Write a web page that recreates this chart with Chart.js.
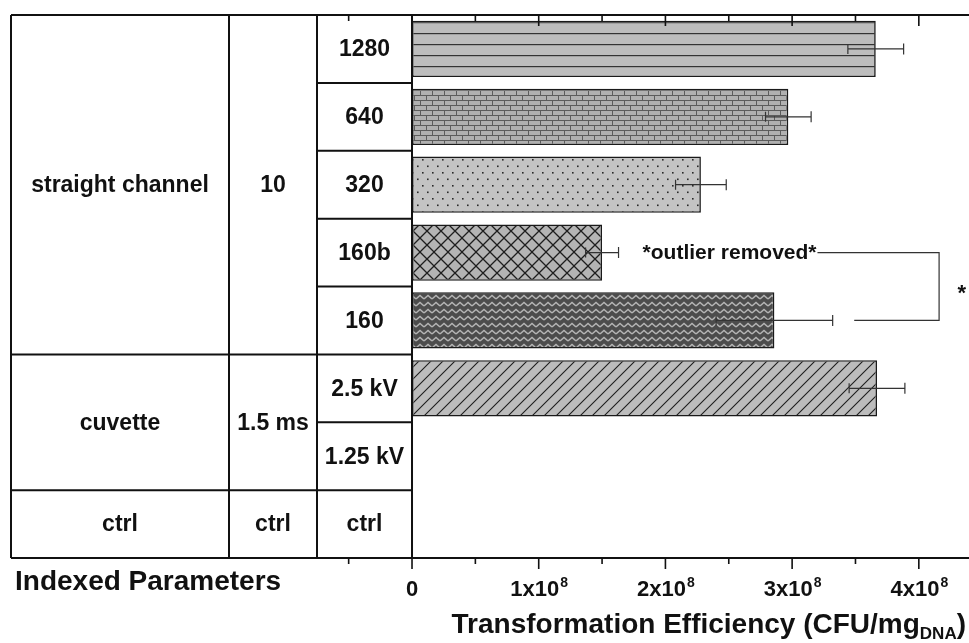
<!DOCTYPE html>
<html><head><meta charset="utf-8">
<script src="https://cdn.jsdelivr.net/npm/chart.js@4.4.1/dist/chart.umd.min.js"></script>
<style>html,body{margin:0;padding:0;background:#fff;overflow:hidden}canvas{display:block}</style>
</head><body>
<canvas id="c" width="969" height="643"></canvas>
<script>
// ---- data ----
const categories = ['1280', '640', '320', '160b', '160', '2.5 kV', '1.25 kV', 'ctrl'];
const efficiency = [3.66e8, 2.97e8, 2.28e8, 1.50e8, 2.86e8, 3.67e8, null, null];
const errors = [0.22e8, 0.18e8, 0.20e8, 0.13e8, 0.46e8, 0.22e8, null, null];
const geometryLabels = ['straight channel', 'cuvette', 'ctrl'];
const pulseLabels = ['10', '1.5 ms', 'ctrl'];
const groupSpans = [5, 2, 1];
const tickValues = [0, 1e8, 2e8, 3e8, 4e8];
const tickLabels = ['0', '1x10^8', '2x10^8', '3x10^8', '4x10^8'];
const minorTickValues = [-0.5e8, 0.5e8, 1.5e8, 2.5e8, 3.5e8];
const patternKinds = ['hlines', 'brick', 'dots', 'crosshatch', 'zigzag', 'diagonal', 'none', 'none'];
const tableTitle = 'Indexed Parameters';
const axisTitle = ['Transformation Efficiency (CFU/mg', 'DNA', ')'];
const annotationText = '*outlier removed*';

const X_MIN = -3.165e8, X_MAX = 4.396e8;
const FONT = '"Liberation Sans", Arial, Helvetica, sans-serif';

function makePattern(kind) {
  const c = document.createElement('canvas');
  let w = 12, h = 12;
  const g = () => c.getContext('2d');
  if (kind === 'hlines') {
    w = 8; h = 11; c.width = w; c.height = h; const x = g();
    x.fillStyle = '#bdbdbd'; x.fillRect(0, 0, w, h);
    x.fillStyle = '#333'; x.fillRect(0, 0, w, 1.2);
  } else if (kind === 'brick') {
    w = 12; h = 10; c.width = w; c.height = h; const x = g();
    x.fillStyle = '#b0b0b0'; x.fillRect(0, 0, w, h);
    x.fillStyle = '#5c5c5c';
    x.fillRect(0, 0, w, 1); x.fillRect(0, 5, w, 1);
    x.fillRect(0, 0, 1, 5); x.fillRect(6, 5, 1, 5);
  } else if (kind === 'dots') {
    w = 10; h = 13; c.width = w; c.height = h; const x = g();
    x.fillStyle = '#c3c3c3'; x.fillRect(0, 0, w, h);
    x.fillStyle = '#2a2a2a';
    x.fillRect(2, 3, 1.6, 1.6); x.fillRect(7, 9.5, 1.6, 1.6);
  } else if (kind === 'crosshatch') {
    w = 14; h = 14; c.width = w; c.height = h; const x = g();
    x.fillStyle = '#b4b4b4'; x.fillRect(0, 0, w, h);
    x.strokeStyle = '#1e1e1e'; x.lineWidth = 1.3;
    x.beginPath();
    x.moveTo(-1, -1); x.lineTo(w + 1, h + 1);
    x.moveTo(w + 1, -1); x.lineTo(-1, h + 1);
    x.stroke();
  } else if (kind === 'zigzag') {
    w = 8; h = 7; c.width = w; c.height = h; const x = g();
    x.fillStyle = '#4c4c4c'; x.fillRect(0, 0, w, h);
    x.strokeStyle = '#b4b4b4'; x.lineWidth = 1.5;
    x.beginPath();
    x.moveTo(0, 5); x.lineTo(4, 1.5); x.lineTo(8, 5);
    x.stroke();
  } else if (kind === 'diagonal') {
    w = 12; h = 12; c.width = w; c.height = h; const x = g();
    x.fillStyle = '#bcbcbc'; x.fillRect(0, 0, w, h);
    x.strokeStyle = '#1e1e1e'; x.lineWidth = 1.1;
    x.beginPath();
    x.moveTo(-1, h + 1); x.lineTo(w + 1, -1);
    x.moveTo(-1, 1); x.lineTo(1, -1);
    x.moveTo(w - 1, h + 1); x.lineTo(w + 1, h - 1);
    x.stroke();
  } else {
    return '#bbbbbb';
  }
  return document.getElementById('c').getContext('2d').createPattern(c, 'repeat');
}
const fills = patternKinds.map(makePattern);

function drawSupLabel(ctx, text, cx, baseline, size) {
  const parts = text.split('^');
  ctx.font = 'bold ' + size + 'px ' + FONT;
  const w1 = ctx.measureText(parts[0]).width;
  let w2 = 0;
  const supSize = Math.round(size * 0.62);
  if (parts[1]) { ctx.font = 'bold ' + supSize + 'px ' + FONT; w2 = ctx.measureText(parts[1]).width; }
  const start = cx - (w1 + w2) / 2;
  ctx.textAlign = 'left'; ctx.textBaseline = 'alphabetic';
  ctx.font = 'bold ' + size + 'px ' + FONT;
  ctx.fillText(parts[0], start, baseline);
  if (parts[1]) {
    ctx.font = 'bold ' + supSize + 'px ' + FONT;
    ctx.fillText(parts[1], start + w1 + 1, baseline - size * 0.42);
  }
}

const overlay = {
  id: 'overlay',
  afterDraw(chart) {
    const ctx = chart.ctx;
    const xs = chart.scales.x, ys = chart.scales.y;
    const a = chart.chartArea;
    const x0 = xs.getPixelForValue(0);
    const n = categories.length;
    const rowEdge = i => i === 0 ? a.top : (i === n ? a.bottom : (ys.getPixelForValue(i - 1) + ys.getPixelForValue(i)) / 2);
    ctx.save();

    // error bars
    ctx.strokeStyle = '#333'; ctx.lineWidth = 1.2;
    efficiency.forEach((v, i) => {
      if (v == null || !errors[i]) return;
      const y = ys.getPixelForValue(i);
      const xa = xs.getPixelForValue(v - errors[i]), xb = xs.getPixelForValue(v + errors[i]);
      ctx.beginPath();
      ctx.moveTo(xa, y); ctx.lineTo(xb, y);
      ctx.moveTo(xa, y - 5); ctx.lineTo(xa, y + 5);
      ctx.moveTo(xb, y - 5.5); ctx.lineTo(xb, y + 5.5);
      ctx.stroke();
    });

    // axes frame
    ctx.strokeStyle = '#111'; ctx.lineWidth = 2;
    ctx.beginPath();
    ctx.moveTo(a.left, a.top); ctx.lineTo(a.right, a.top);
    ctx.moveTo(a.left, a.bottom); ctx.lineTo(a.right, a.bottom);
    ctx.stroke();
    ctx.lineWidth = 1.6;
    ctx.beginPath();
    tickValues.forEach(v => {
      const x = xs.getPixelForValue(v);
      ctx.moveTo(x, a.top); ctx.lineTo(x, a.top + 11);
      ctx.moveTo(x, a.bottom); ctx.lineTo(x, a.bottom + 11);
    });
    minorTickValues.forEach(v => {
      const x = xs.getPixelForValue(v);
      ctx.moveTo(x, a.top); ctx.lineTo(x, a.top + 6);
      ctx.moveTo(x, a.bottom); ctx.lineTo(x, a.bottom + 6);
    });
    ctx.stroke();

    // table
    const colL = a.left, col1 = 229, col2 = 317, colR = x0;
    ctx.strokeStyle = '#111'; ctx.lineWidth = 2;
    ctx.beginPath();
    [colL, col1, col2, colR].forEach(x => { ctx.moveTo(x, a.top); ctx.lineTo(x, a.bottom); });
    let r = 0;
    groupSpans.forEach((s, gi) => {
      r += s;
      if (r < n) { const y = rowEdge(r); ctx.moveTo(colL, y); ctx.lineTo(col2, y); }
    });
    for (let i = 1; i < n; i++) { const y = rowEdge(i); ctx.moveTo(col2, y); ctx.lineTo(colR, y); }
    ctx.stroke();

    ctx.fillStyle = '#111';
    ctx.font = 'bold 23px ' + FONT;
    ctx.textAlign = 'center'; ctx.textBaseline = 'middle';
    r = 0;
    groupSpans.forEach((s, gi) => {
      const yc = (rowEdge(r) + rowEdge(r + s)) / 2 + 1;
      ctx.fillText(geometryLabels[gi], (colL + col1) / 2, yc);
      ctx.fillText(pulseLabels[gi], (col1 + col2) / 2, yc);
      r += s;
    });
    categories.forEach((c, i) => {
      ctx.fillText(c, (col2 + colR) / 2, (rowEdge(i) + rowEdge(i + 1)) / 2 + 1);
    });

    // annotation
    const y1 = ys.getPixelForValue(3), y2 = ys.getPixelForValue(4);
    ctx.font = 'bold 21px ' + FONT;
    ctx.textAlign = 'left'; ctx.textBaseline = 'middle';
    ctx.fillText(annotationText, xs.getPixelForValue(1.82e8), y1 + 1);
    ctx.strokeStyle = '#333'; ctx.lineWidth = 1.2;
    const xBr = xs.getPixelForValue(4.16e8);
    ctx.beginPath();
    ctx.moveTo(xs.getPixelForValue(3.20e8), y1); ctx.lineTo(xBr, y1); ctx.lineTo(xBr, y2);
    ctx.lineTo(xs.getPixelForValue(3.49e8), y2);
    ctx.stroke();
    ctx.font = 'bold 22px ' + FONT;
    ctx.textAlign = 'center'; ctx.textBaseline = 'alphabetic';
    ctx.fillText('*', xs.getPixelForValue(4.34e8), (y1 + y2) / 2 + 13);

    // tick labels
    ctx.fillStyle = '#111';
    tickValues.forEach((v, i) => drawSupLabel(ctx, tickLabels[i], xs.getPixelForValue(v), a.bottom + 38, 22));

    // titles
    ctx.font = 'bold 28px ' + FONT;
    ctx.textAlign = 'left'; ctx.textBaseline = 'alphabetic';
    ctx.fillText(tableTitle, 15, a.bottom + 32);
    const tw1 = ctx.measureText(axisTitle[0]).width;
    ctx.font = 'bold 17px ' + FONT;
    const tw2 = ctx.measureText(axisTitle[1]).width;
    ctx.font = 'bold 28px ' + FONT;
    const tw3 = ctx.measureText(axisTitle[2]).width;
    const tx = 966 - (tw1 + tw2 + tw3);
    ctx.fillText(axisTitle[0], tx, a.bottom + 75);
    ctx.font = 'bold 17px ' + FONT;
    ctx.fillText(axisTitle[1], tx + tw1, a.bottom + 81);
    ctx.font = 'bold 28px ' + FONT;
    ctx.fillText(axisTitle[2], tx + tw1 + tw2, a.bottom + 75);
    ctx.restore();
  }
};

new Chart(document.getElementById('c').getContext('2d'), {
  type: 'bar',
  data: {
    labels: categories,
    datasets: [{
      data: efficiency,
      backgroundColor: fills,
      borderColor: '#1a1a1a',
      borderWidth: 1.6,
      borderSkipped: false,
      barPercentage: 0.83,
      categoryPercentage: 1
    }]
  },
  options: {
    indexAxis: 'y',
    responsive: false,
    animation: false,
    devicePixelRatio: 1,
    layout: { padding: { left: 11, right: 0, top: 15, bottom: 85 } },
    plugins: { legend: { display: false }, tooltip: { enabled: false } },
    scales: {
      x: { type: 'linear', min: X_MIN, max: X_MAX, display: false },
      y: { type: 'category', display: false, offset: true }
    }
  },
  plugins: [overlay]
});
</script>
</body></html>
